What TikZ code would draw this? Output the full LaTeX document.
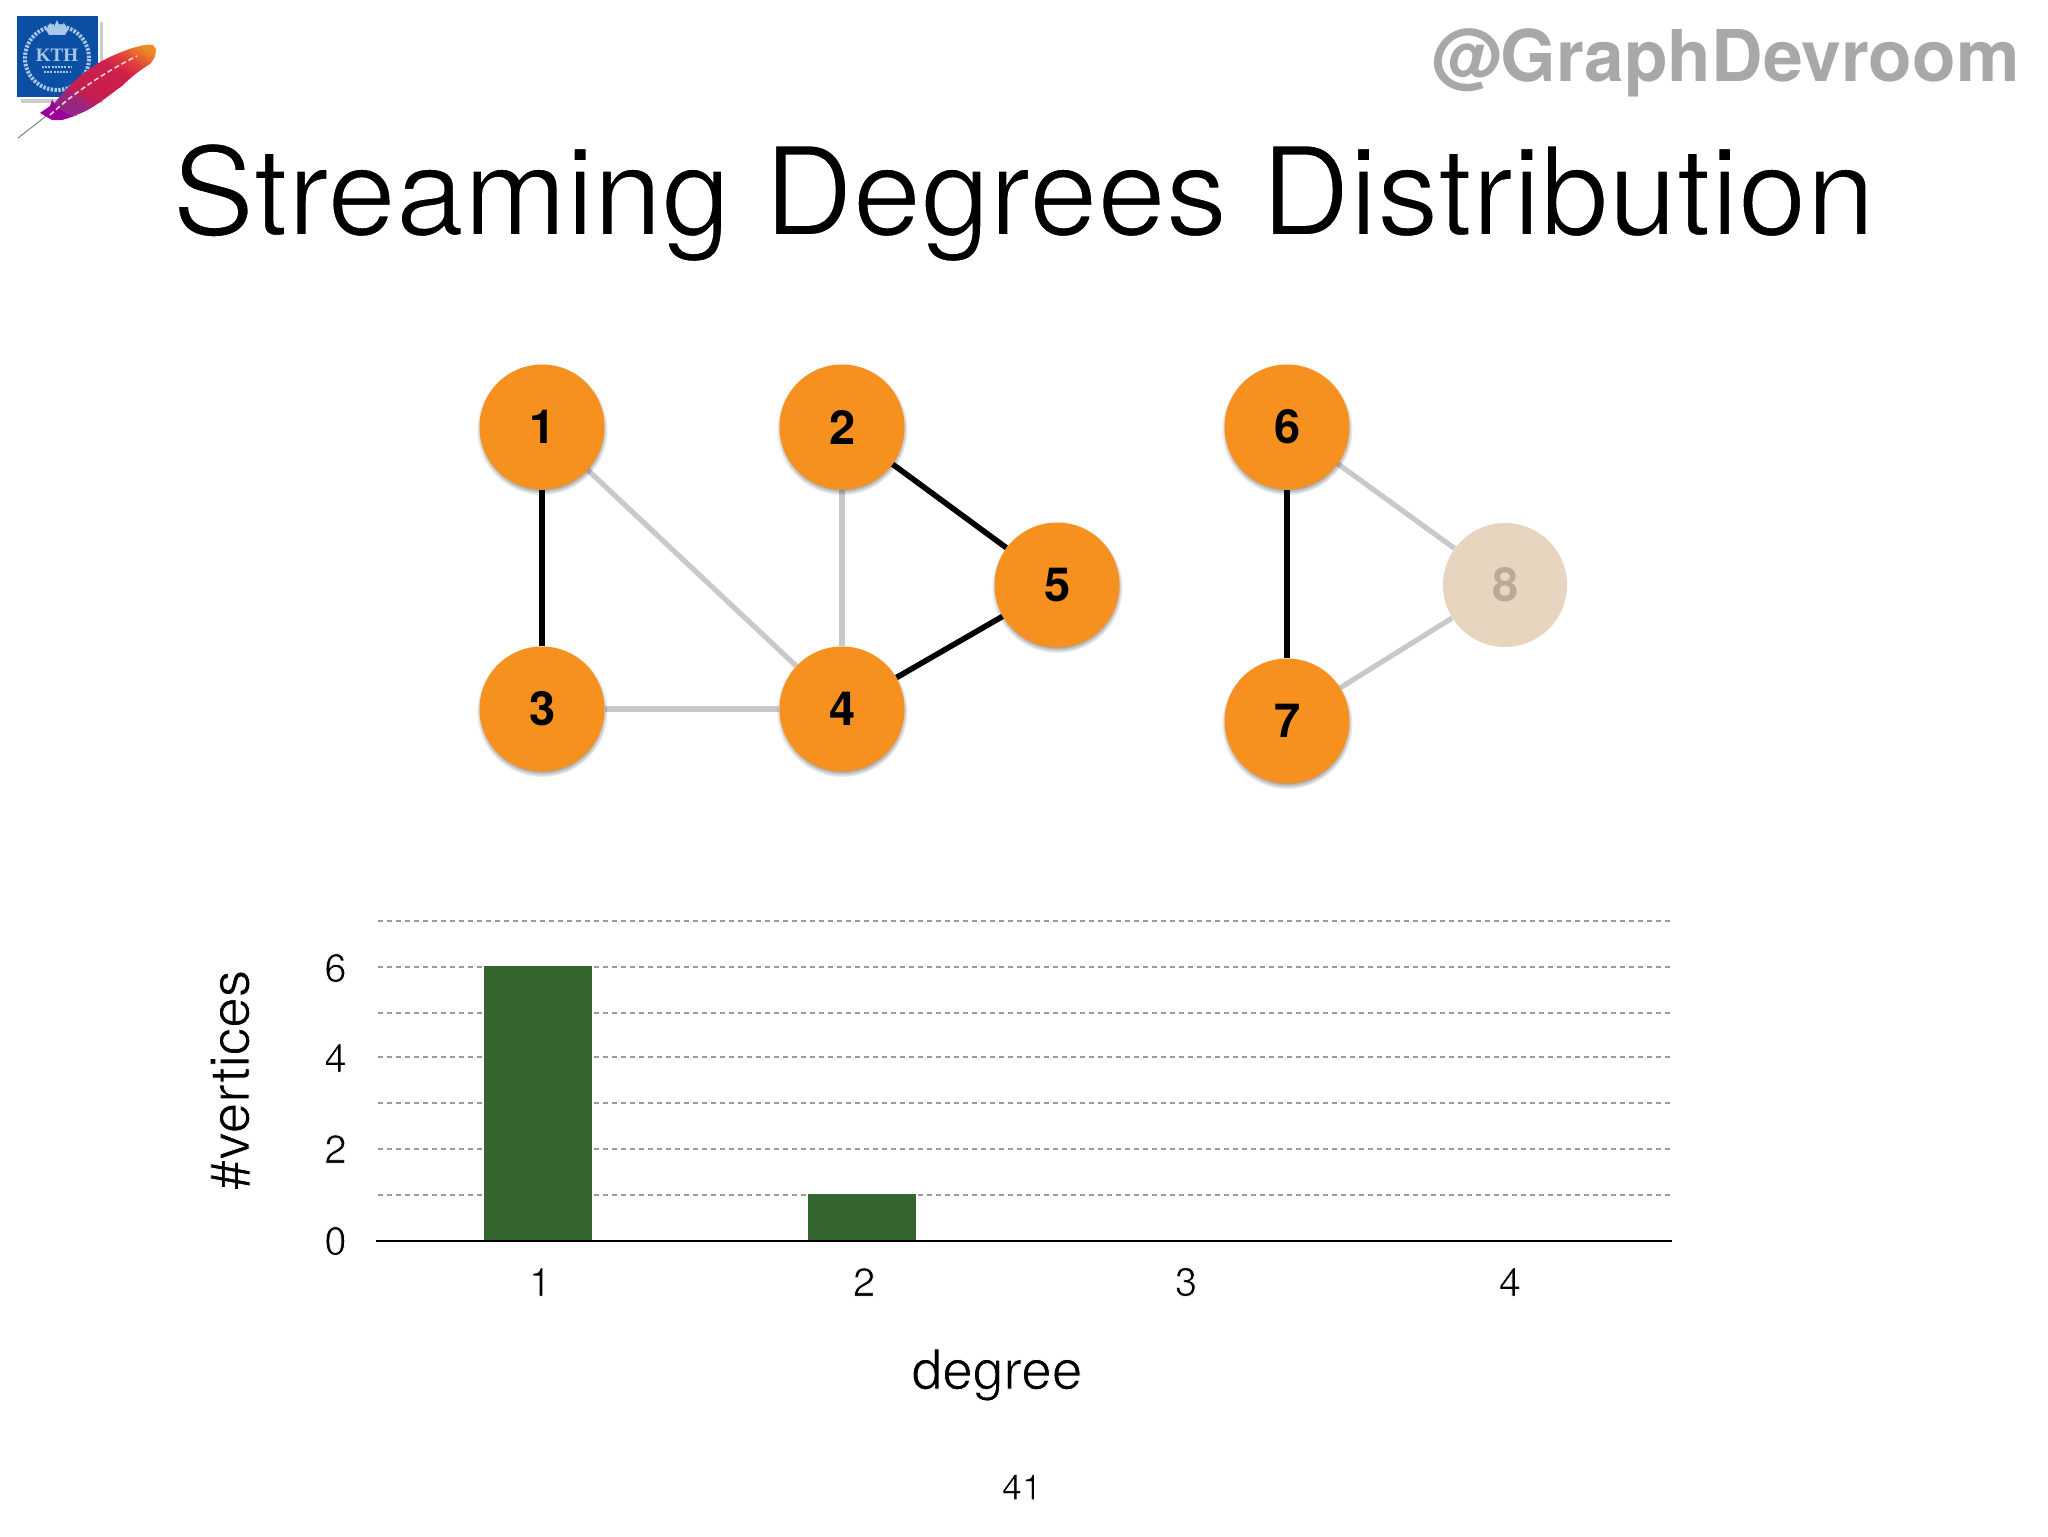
\documentclass[tikz,border=0pt]{standalone}
\usepackage{fontspec}
\setmainfont{TeX Gyre Heros}
\newfontfamily\kthfont{Liberation Serif}
\usetikzlibrary{backgrounds,shadows}
\newcommand\slimtext[2]{\special{pdf:code q 2 Tr 1 1 1 RG #1 w}#2\special{pdf:code Q}}
\newcommand\dg[1]{\kern.6pt #1}
\definecolor{orangeN}{HTML}{F6901E}
\definecolor{paleN}{HTML}{E8D5C0}
\definecolor{paleT}{HTML}{B8AA98}
\definecolor{edgeG}{HTML}{C9C8CC}
\definecolor{barG}{HTML}{35662F}
\definecolor{gridG}{HTML}{9A9A9A}
\definecolor{kthB}{HTML}{0A4FA3}
\definecolor{kthL}{HTML}{A9C8E8}
\definecolor{fa}{HTML}{7A2A9A}
\definecolor{fb}{HTML}{9A2580}
\definecolor{fc}{HTML}{C41E4E}
\definecolor{fd}{HTML}{CF1F4A}
\definecolor{fe}{HTML}{E0403A}
\definecolor{ff}{HTML}{EE8A26}
\definecolor{fg}{HTML}{F0A028}
\pgfdeclarehorizontalshading{featherS}{100bp}{color(0bp)=(fa);color(34bp)=(fb);color(40bp)=(fc);color(60bp)=(fd);color(68bp)=(fe);color(78bp)=(ff);color(100bp)=(fg)}
\tikzset{
 x=0.5pt,y=-0.5pt,
 vert/.style={circle,minimum size=62.5pt,inner sep=0pt,fill=orangeN,font=\fontsize{23.5}{23.5}\selectfont\bfseries,
   circular drop shadow={shadow xshift=0pt,shadow yshift=-1.2pt,shadow scale=1.05,opacity=.55,fill=black}},
 pale/.style={circle,minimum size=62pt,inner sep=0pt,fill=paleN,text=paleT,font=\fontsize{23.5}{23.5}\selectfont\bfseries},
 active/.style={line width=2.8pt,black},
 faded/.style={line width=2.6pt,edgeG},
 gridline/.style={line width=.6pt,gridG,dash pattern=on 2.6pt off 1.9pt},
 bar/.style={fill=barG,draw=none},
 tick/.style={font=\fontsize{20}{20}\selectfont,inner sep=0pt},
 axislabel/.style={font=\fontsize{27.5}{27.5}\selectfont,inner sep=0pt,anchor=base},
}
\begin{document}
\begin{tikzpicture}
\useasboundingbox (0,0) rectangle (2048,1536);
\begin{scope}[on background layer]
\fill[white] (0,0) rectangle (2048,1536);
\end{scope}
% logo
\fill[black!45,opacity=.45] (21,22) rectangle (103,103);
\fill[white] (15,14) rectangle (100,99);
\fill[kthB] (17,16) rectangle (98,97);
\draw[kthL,line width=2pt,dash pattern=on 1.2pt off .7pt] (57,58) circle (16pt);
\fill[kthL] (46,30) -- (50,23) -- (54,27) -- (57,20) -- (60,27) -- (64,23) -- (68,30) -- (65,35) -- (49,35) -- cycle;
\node[inner sep=0pt,text=kthL,font=\kthfont\fontsize{9.5}{9.5}\selectfont\bfseries] (kth) at (57,55) {KTH};
\draw[kthL,line width=.8pt,dash pattern=on 1pt off .6pt] (42,67) -- (72,67);
\draw[kthL,line width=.6pt,dash pattern=on 1pt off .6pt] (44,72) -- (70,72);
\draw[black!50,line width=.5pt] (18,138) -- (50,113);
\shade[shading=featherS,shading angle=60] (47,115) .. controls (60,92) and (85,68) .. (112,56) .. controls (128,49) and (145,43) .. (153,45) .. controls (158,48) and (156,58) .. (150,64) .. controls (140,70) and (130,78) .. (122,86) .. controls (105,98) and (90,112) .. (72,116) .. controls (62,122) and (52,120) .. (47,115) -- cycle;
\fill[violet!80!magenta] (40,113) -- (50,106) -- (52,100) -- (58,108) -- (70,116) -- (78,115) -- (62,120) -- (52,120) -- cycle;
\draw[pink!70,line width=.8pt,dash pattern=on 2.5pt off 1.5pt] (50,115) .. controls (75,92) and (105,72) .. (137,56);
% header
\node[anchor=base east,inner sep=0pt,text=black!34,font=\fontsize{35.7}{35.7}\selectfont\bfseries] (handle) at (2020,82) {@GraphDevroom};
\node[anchor=base,inner sep=0pt,font=\fontsize{61.4}{61.4}\selectfont] (title) at (1023.5,235) {\slimtext{.9}{Streaming Degrees Distribution}};
% graph
\node[vert] (n1) at (542,427) {\dg{1}};
\node[vert] (n2) at (842,427) {\dg{2}};
\node[vert] (n3) at (542,709) {\dg{3}};
\node[vert] (n4) at (842,709) {\dg{4}};
\node[vert] (n5) at (1057,585) {\dg{5}};
\node[vert] (n6) at (1287,427) {\dg{6}};
\node[vert] (n7) at (1287,721) {\dg{7}};
\node[pale] (n8) at (1505,585) {\dg{8}};
\begin{scope}[on background layer]
\draw[active] (n1) -- (n3);
\draw[faded] (n1) -- (n4);
\draw[faded] (n2) -- (n4);
\draw[active] (n2) -- (n5);
\draw[faded] (n3) -- (n4);
\draw[active] (n4) -- (n5);
\draw[active] (n6) -- (n7);
\draw[faded] (n6) -- (n8);
\draw[faded] (n7) -- (n8);
\end{scope}
% chart
\foreach \yy in {921,967,1013,1057,1103,1149,1195} \draw[gridline] (378,\yy) -- (1672,\yy);
\fill[white] (592,960) rectangle (594,1240);
\node[bar,inner sep=0pt,minimum width=54pt,minimum height=137.5pt,anchor=south west] (b1) at (484,1241) {};
\node[bar,inner sep=0pt,minimum width=54pt,minimum height=23.5pt,anchor=south west] (b2) at (808,1241) {};
\coordinate (axL) at (376,1241);
\coordinate (axR) at (1672,1241);
\draw[line width=1pt,black] (axL) -- (axR);
\node[tick] (y6) at (335.5,968) {\slimtext{.35}{6}};
\node[tick] (y4) at (335.5,1058) {\slimtext{.35}{4}};
\node[tick] (y2) at (335.5,1149) {\slimtext{.35}{2}};
\node[tick] (y0) at (335.5,1241) {\slimtext{.35}{0}};
\node[tick] (x1) at (540,1282) {\slimtext{.35}{1}};
\node[tick] (x2) at (864,1282) {\slimtext{.35}{2}};
\node[tick] (x3) at (1186,1282) {\slimtext{.35}{3}};
\node[tick] (x4) at (1510,1282) {\slimtext{.35}{4}};
\node[axislabel,rotate=90] (yl) at (249,1080) {\slimtext{.4}{\#vertices}};
\node[axislabel] (xl) at (997,1389) {\slimtext{.4}{degree}};
\node[inner sep=0pt,font=\fontsize{18}{18}\selectfont] (pg) at (1022,1487) {\slimtext{.3}{41}};
\end{tikzpicture}
\end{document}
